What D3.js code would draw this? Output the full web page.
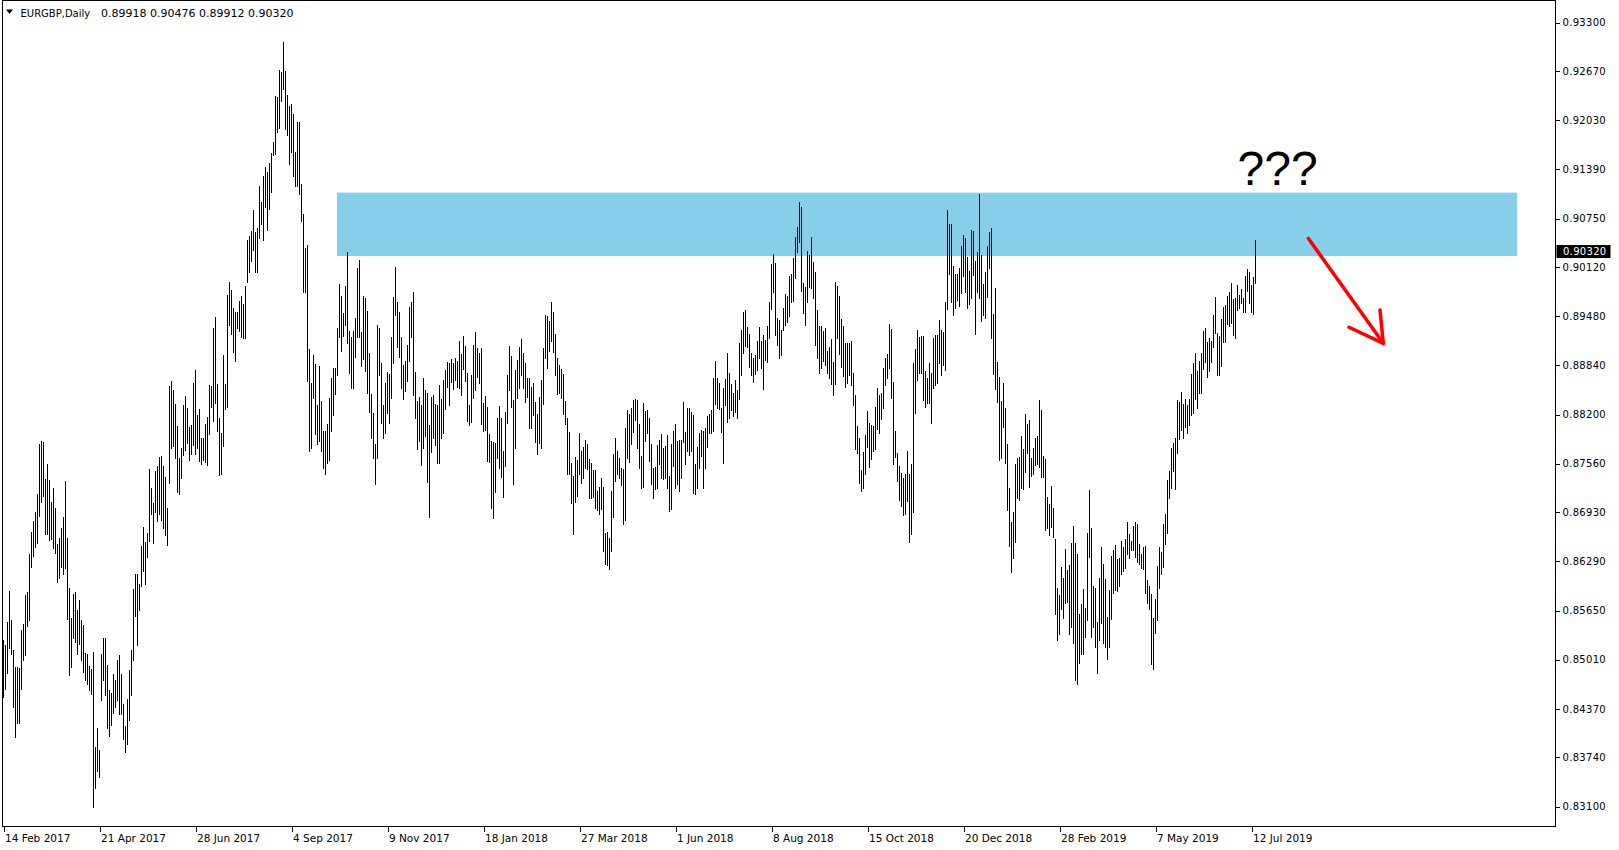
<!DOCTYPE html>
<html><head><meta charset="utf-8">
<script src="https://cdn.jsdelivr.net/npm/d3@7/dist/d3.min.js"></script>
<style>
html,body{margin:0;padding:0;background:#fff;}
svg{display:block;}
</style></head>
<body>
<svg id="c" width="1619" height="850"></svg>
<script>
// ---- data ----
const symbol = "EURGBP,Daily";
const lastOHLC = [0.89918, 0.90476, 0.89912, 0.90320];
const dateLabels = ["14 Feb 2017","21 Apr 2017","28 Jun 2017","4 Sep 2017","9 Nov 2017","18 Jan 2018","27 Mar 2018","1 Jun 2018","8 Aug 2018","15 Oct 2018","20 Dec 2018","28 Feb 2019","7 May 2019","12 Jul 2019"];
const barsPerLabel = 48;
const priceTicks = [0.93300,0.92670,0.92030,0.91390,0.90750,0.90120,0.89480,0.88840,0.88200,0.87560,0.86930,0.86290,0.85650,0.85010,0.84370,0.83740,0.83100];
const zone = [0.91086, 0.90262];       // resistance zone (price top, bottom)
const zoneBars = [167, 757];          // zone start / end bar index
const question = {text:"???", bar:617, price:0.91186};
const arrowLine = [[652.4,0.90492],[689.9,0.89126]];
const arrowWings = [[672.75,0.89335],[688.25,0.89560]];

const high = [
0.8527,0.8520,0.8550,0.8590,0.8553,0.8514,0.8491,0.8492,0.8490,0.8539,
0.8547,0.8585,0.8589,0.8638,0.8667,0.8681,0.8693,0.8717,0.8782,0.8785,
0.8784,0.8736,0.8756,0.8735,0.8706,0.8724,0.8698,0.8652,0.8659,0.8672,
0.8686,0.8733,0.8659,0.8594,0.8555,0.8586,0.8589,0.8566,0.8579,0.8553,
0.8546,0.8510,0.8508,0.8493,0.8489,0.8511,0.8388,0.8412,0.8384,0.8508,
0.8529,0.8529,0.8494,0.8462,0.8458,0.8482,0.8474,0.8500,0.8507,0.8483,
0.8444,0.8415,0.8450,0.8487,0.8513,0.8593,0.8613,0.8612,0.8600,0.8649,
0.8673,0.8654,0.8666,0.8749,0.8725,0.8705,0.8746,0.8753,0.8765,0.8766,
0.8753,0.8739,0.8698,0.8857,0.8864,0.8852,0.8834,0.8805,0.8763,0.8776,
0.8833,0.8844,0.8828,0.8804,0.8806,0.8861,0.8878,0.8820,0.8827,0.8789,
0.8790,0.8808,0.8817,0.8859,0.8857,0.8932,0.8947,0.8860,0.8816,0.8796,
0.8898,0.8860,0.8976,0.8992,0.8982,0.8958,0.8953,0.8953,0.8968,0.8974,
0.8964,0.8987,0.9047,0.9052,0.9059,0.9086,0.9058,0.9062,0.9117,0.9096,
0.9130,0.9142,0.9135,0.9147,0.9160,0.9175,0.9234,0.9233,0.9268,0.9266,
0.9305,0.9267,0.9236,0.9221,0.9224,0.9211,0.9162,0.9201,0.9201,0.9120,
0.9081,0.9037,0.9040,0.8905,0.8861,0.8897,0.8886,0.8833,0.8883,0.8837,
0.8799,0.8799,0.8808,0.8841,0.8867,0.8880,0.8880,0.8932,0.8990,0.8974,
0.8952,0.8987,0.9031,0.8929,0.8921,0.8929,0.8946,0.9011,0.9021,0.8927,
0.8974,0.8972,0.8955,0.8900,0.8847,0.8822,0.8782,0.8937,0.8933,0.8887,
0.8833,0.8861,0.8875,0.8873,0.8921,0.8973,0.9012,0.8966,0.8953,0.8921,
0.8884,0.8890,0.8911,0.8960,0.8966,0.8979,0.8875,0.8837,0.8843,0.8832,
0.8867,0.8852,0.8848,0.8806,0.8843,0.8845,0.8834,0.8832,0.8859,0.8840,
0.8865,0.8878,0.8888,0.8887,0.8892,0.8887,0.8893,0.8889,0.8916,0.8899,
0.8922,0.8909,0.8874,0.8833,0.8871,0.8910,0.8927,0.8907,0.8900,0.8907,
0.8835,0.8844,0.8830,0.8794,0.8786,0.8784,0.8783,0.8815,0.8831,0.8815,
0.8773,0.8823,0.8872,0.8909,0.8896,0.8839,0.8878,0.8891,0.8908,0.8918,
0.8900,0.8887,0.8868,0.8868,0.8856,0.8861,0.8836,0.8821,0.8843,0.8865,
0.8907,0.8949,0.8948,0.8941,0.8966,0.8954,0.8925,0.8894,0.8884,0.8879,
0.8873,0.8838,0.8815,0.8797,0.8757,0.8740,0.8765,0.8761,0.8796,0.8772,
0.8778,0.8787,0.8782,0.8762,0.8757,0.8748,0.8748,0.8721,0.8726,0.8738,
0.8726,0.8666,0.8667,0.8659,0.8721,0.8769,0.8789,0.8772,0.8764,0.8750,
0.8749,0.8802,0.8826,0.8821,0.8829,0.8839,0.8840,0.8839,0.8808,0.8766,
0.8835,0.8825,0.8826,0.8815,0.8782,0.8750,0.8752,0.8780,0.8787,0.8795,
0.8776,0.8779,0.8793,0.8740,0.8782,0.8799,0.8808,0.8786,0.8787,0.8787,
0.8836,0.8797,0.8829,0.8829,0.8823,0.8819,0.8755,0.8778,0.8796,0.8800,
0.8799,0.8803,0.8818,0.8821,0.8826,0.8868,0.8889,0.8868,0.8861,0.8828,
0.8855,0.8866,0.8900,0.8874,0.8860,0.8848,0.8865,0.8852,0.8913,0.8930,
0.8953,0.8956,0.8934,0.8925,0.8900,0.8894,0.8898,0.8916,0.8934,0.8915,
0.8924,0.8917,0.8935,0.8966,0.9016,0.9029,0.9017,0.8945,0.8943,0.8930,
0.8959,0.8977,0.8974,0.9000,0.9003,0.9024,0.9051,0.9064,0.9097,0.9090,
0.8991,0.8986,0.9033,0.9027,0.9051,0.9018,0.9005,0.8956,0.8935,0.8935,
0.8929,0.8932,0.8902,0.8908,0.8918,0.8888,0.8993,0.8987,0.8974,0.8944,
0.8935,0.8913,0.8913,0.8913,0.8915,0.8874,0.8845,0.8805,0.8789,0.8748,
0.8771,0.8793,0.8825,0.8809,0.8806,0.8805,0.8830,0.8855,0.8845,0.8848,
0.8881,0.8894,0.8899,0.8938,0.8931,0.8862,0.8799,0.8770,0.8753,0.8744,
0.8737,0.8742,0.8772,0.8743,0.8756,0.8887,0.8905,0.8930,0.8921,0.8922,
0.8922,0.8876,0.8868,0.8887,0.8874,0.8919,0.8924,0.8924,0.8943,0.8930,
0.8927,0.8966,0.9086,0.9068,0.9068,0.9013,0.9003,0.9003,0.9010,0.9039,
0.9054,0.9049,0.9025,0.9007,0.9060,0.9059,0.9020,0.9031,0.9107,0.9028,
0.8990,0.9005,0.9039,0.9057,0.9062,0.8951,0.8984,0.8888,0.8869,0.8838,
0.8861,0.8828,0.8781,0.8724,0.8680,0.8693,0.8756,0.8763,0.8765,0.8792,
0.8775,0.8821,0.8808,0.8813,0.8763,0.8776,0.8789,0.8792,0.8839,0.8826,
0.8766,0.8762,0.8713,0.8703,0.8727,0.8698,0.8658,0.8594,0.8585,0.8622,
0.8607,0.8645,0.8618,0.8624,0.8653,0.8675,0.8653,0.8639,0.8561,0.8573,
0.8593,0.8568,0.8666,0.8722,0.8672,0.8597,0.8594,0.8550,0.8607,0.8648,
0.8626,0.8606,0.8557,0.8592,0.8636,0.8644,0.8650,0.8632,0.8633,0.8655,
0.8648,0.8658,0.8680,0.8665,0.8655,0.8675,0.8680,0.8678,0.8652,0.8639,
0.8648,0.8649,0.8605,0.8597,0.8587,0.8555,0.8580,0.8623,0.8647,0.8641,
0.8678,0.8691,0.8735,0.8746,0.8777,0.8783,0.8789,0.8839,0.8836,0.8849,
0.8834,0.8840,0.8833,0.8840,0.8873,0.8887,0.8900,0.8876,0.8890,0.8900,
0.8929,0.8932,0.8914,0.8919,0.8916,0.8949,0.8973,0.8926,0.8922,0.8944,
0.8960,0.8962,0.8974,0.8980,0.8991,0.8970,0.8972,0.8988,0.8975,0.8983,
0.8971,0.9000,0.9009,0.9005,0.8988,0.8999,0.90476];

const low = [
0.8453,0.8463,0.8484,0.8516,0.8509,0.8439,0.8401,0.8419,0.8419,0.8463,
0.8500,0.8507,0.8545,0.8553,0.8622,0.8636,0.8648,0.8653,0.8688,0.8706,
0.8714,0.8664,0.8665,0.8657,0.8658,0.8646,0.8640,0.8602,0.8607,0.8622,
0.8612,0.8620,0.8554,0.8481,0.8492,0.8529,0.8524,0.8508,0.8521,0.8500,
0.8485,0.8475,0.8470,0.8461,0.8457,0.8310,0.8334,0.8356,0.8349,0.8448,
0.8474,0.8455,0.8412,0.8402,0.8416,0.8432,0.8439,0.8448,0.8430,0.8430,
0.8398,0.8381,0.8391,0.8423,0.8455,0.8500,0.8558,0.8520,0.8566,0.8597,
0.8616,0.8599,0.8635,0.8655,0.8690,0.8653,0.8693,0.8682,0.8691,0.8683,
0.8672,0.8663,0.8650,0.8731,0.8777,0.8779,0.8763,0.8719,0.8717,0.8737,
0.8767,0.8774,0.8783,0.8761,0.8768,0.8780,0.8769,0.8776,0.8759,0.8755,
0.8761,0.8758,0.8754,0.8794,0.8830,0.8812,0.8835,0.8799,0.8741,0.8742,
0.8779,0.8827,0.8830,0.8937,0.8925,0.8901,0.8889,0.8932,0.8929,0.8921,
0.8920,0.8920,0.8993,0.9005,0.9020,0.9034,0.9005,0.9005,0.9049,0.9068,
0.9047,0.9090,0.9060,0.9088,0.9109,0.9158,0.9159,0.9187,0.9193,0.9228,
0.9244,0.9191,0.9183,0.9146,0.9161,0.9130,0.9117,0.9117,0.9107,0.9072,
0.8979,0.8980,0.8864,0.8772,0.8776,0.8841,0.8794,0.8781,0.8785,0.8773,
0.8750,0.8743,0.8757,0.8761,0.8799,0.8820,0.8847,0.8872,0.8921,0.8903,
0.8922,0.8937,0.8913,0.8874,0.8854,0.8855,0.8895,0.8921,0.8921,0.8883,
0.8892,0.8877,0.8848,0.8823,0.8790,0.8763,0.8730,0.8764,0.8871,0.8809,
0.8789,0.8796,0.8822,0.8809,0.8842,0.8887,0.8949,0.8908,0.8895,0.8854,
0.8840,0.8851,0.8864,0.8890,0.8921,0.8845,0.8815,0.8775,0.8786,0.8754,
0.8777,0.8792,0.8732,0.8687,0.8771,0.8789,0.8780,0.8757,0.8757,0.8790,
0.8796,0.8827,0.8856,0.8833,0.8862,0.8853,0.8865,0.8856,0.8855,0.8846,
0.8879,0.8864,0.8812,0.8806,0.8810,0.8842,0.8852,0.8869,0.8861,0.8807,
0.8799,0.8800,0.8759,0.8758,0.8698,0.8685,0.8719,0.8763,0.8750,0.8739,
0.8713,0.8753,0.8809,0.8852,0.8830,0.8729,0.8776,0.8841,0.8855,0.8872,
0.8855,0.8836,0.8843,0.8802,0.8802,0.8820,0.8784,0.8769,0.8783,0.8776,
0.8834,0.8894,0.8881,0.8902,0.8915,0.8901,0.8871,0.8847,0.8848,0.8842,
0.8821,0.8807,0.8743,0.8742,0.8705,0.8664,0.8706,0.8714,0.8743,0.8731,
0.8738,0.8750,0.8749,0.8711,0.8712,0.8713,0.8698,0.8696,0.8690,0.8697,
0.8642,0.8625,0.8624,0.8619,0.8642,0.8686,0.8733,0.8742,0.8737,0.8728,
0.8678,0.8683,0.8763,0.8758,0.8781,0.8797,0.8813,0.8776,0.8751,0.8725,
0.8726,0.8786,0.8796,0.8760,0.8730,0.8711,0.8723,0.8724,0.8756,0.8737,
0.8736,0.8738,0.8724,0.8695,0.8697,0.8753,0.8724,0.8730,0.8721,0.8737,
0.8784,0.8756,0.8773,0.8767,0.8773,0.8718,0.8717,0.8725,0.8750,0.8766,
0.8724,0.8750,0.8778,0.8796,0.8796,0.8798,0.8834,0.8829,0.8827,0.8797,
0.8757,0.8833,0.8810,0.8815,0.8826,0.8818,0.8823,0.8815,0.8840,0.8872,
0.8900,0.8909,0.8908,0.8882,0.8871,0.8862,0.8873,0.8878,0.8893,0.8881,
0.8853,0.8891,0.8888,0.8920,0.8957,0.8979,0.8924,0.8911,0.8894,0.8898,
0.8930,0.8936,0.8940,0.8948,0.8967,0.8968,0.8997,0.9032,0.9044,0.8981,
0.8952,0.8936,0.8966,0.8986,0.8985,0.8972,0.8911,0.8893,0.8874,0.8881,
0.8889,0.8885,0.8874,0.8868,0.8860,0.8846,0.8860,0.8919,0.8899,0.8882,
0.8870,0.8856,0.8861,0.8872,0.8858,0.8833,0.8775,0.8770,0.8731,0.8721,
0.8725,0.8743,0.8778,0.8752,0.8762,0.8773,0.8775,0.8801,0.8796,0.8814,
0.8828,0.8859,0.8868,0.8881,0.8841,0.8755,0.8765,0.8734,0.8709,0.8701,
0.8689,0.8690,0.8707,0.8654,0.8664,0.8693,0.8822,0.8865,0.8874,0.8874,
0.8839,0.8830,0.8835,0.8835,0.8809,0.8854,0.8859,0.8861,0.8887,0.8872,
0.8885,0.8878,0.8957,0.9003,0.8966,0.8950,0.8959,0.8969,0.8961,0.8978,
0.9000,0.8979,0.8958,0.8964,0.8971,0.9002,0.8925,0.8979,0.8972,0.8942,
0.8949,0.8946,0.8973,0.9010,0.8920,0.8873,0.8853,0.8836,0.8761,0.8764,
0.8804,0.8757,0.8696,0.8649,0.8615,0.8633,0.8654,0.8711,0.8709,0.8724,
0.8723,0.8745,0.8770,0.8726,0.8740,0.8742,0.8754,0.8756,0.8752,0.8739,
0.8739,0.8670,0.8672,0.8663,0.8674,0.8660,0.8560,0.8527,0.8535,0.8567,
0.8555,0.8575,0.8576,0.8534,0.8543,0.8523,0.8474,0.8469,0.8497,0.8508,
0.8509,0.8530,0.8552,0.8635,0.8531,0.8543,0.8517,0.8484,0.8526,0.8549,
0.8523,0.8517,0.8502,0.8517,0.8554,0.8588,0.8592,0.8590,0.8597,0.8612,
0.8616,0.8620,0.8639,0.8633,0.8644,0.8644,0.8634,0.8628,0.8625,0.8620,
0.8619,0.8588,0.8575,0.8567,0.8495,0.8489,0.8536,0.8552,0.8594,0.8612,
0.8622,0.8652,0.8666,0.8712,0.8724,0.8747,0.8723,0.8770,0.8788,0.8800,
0.8789,0.8804,0.8796,0.8806,0.8820,0.8822,0.8840,0.8828,0.8848,0.8848,
0.8879,0.8888,0.8869,0.8876,0.8888,0.8908,0.8926,0.8872,0.8871,0.8883,
0.8914,0.8914,0.8938,0.8935,0.8939,0.8923,0.8919,0.8956,0.8958,0.8965,
0.8953,0.8954,0.8981,0.8965,0.8953,0.8951,0.89912];

// ---- drawing ----
const svg = d3.select("#c");
const L = 2.5, R = 1555.5, T = 0.5, B = 826.5;
const x = d3.scaleLinear().domain([0, 776]).range([3.5, 1555.5]);
const y = d3.scaleLinear().domain([0.831, 0.933]).range([806.5, 22.5]);
const font = "'DejaVu Sans', Verdana, sans-serif";

svg.append("rect").attr("width",1619).attr("height",850).attr("fill","#fff");

// zone
svg.append("rect")
  .attr("x", x(zoneBars[0]) - 0.5).attr("width", x(zoneBars[1]) - x(zoneBars[0]))
  .attr("y", y(zone[0])).attr("height", y(zone[1]) - y(zone[0]))
  .attr("fill", "#87CEEB");

// bars
const bars = high.map((h, i) => ({i, h, l: low[i]}));
svg.append("g").attr("shape-rendering","crispEdges")
  .selectAll("rect").data(bars).join("rect")
  .attr("x", d => x(d.i) - 0.5).attr("width", 1)
  .attr("y", d => Math.round(y(d.h)))
  .attr("height", d => Math.max(1, Math.round(y(d.l)) - Math.round(y(d.h)) + 1))
  .attr("fill", "#000");

// frame
svg.append("rect").attr("x",L).attr("y",T).attr("width",R-L).attr("height",B-T)
  .attr("fill","none").attr("stroke","#000").attr("stroke-width",1).attr("shape-rendering","crispEdges");

// right price axis
const ya = svg.append("g").attr("transform",`translate(${R},0)`)
  .call(d3.axisRight(y).tickValues(priceTicks).tickFormat(d3.format(".5f")).tickSize(4).tickPadding(3));
ya.select(".domain").remove();
ya.selectAll("line").attr("stroke","#000").attr("shape-rendering","crispEdges");
ya.selectAll("text").attr("font-family",font).attr("font-size","10px").attr("fill","#000").attr("letter-spacing","0.3px");

// current price label
svg.append("rect").attr("x",R+1).attr("width",54).attr("y",y(lastOHLC[3])-6.5).attr("height",13).attr("fill","#000");
svg.append("text").attr("x",R+7.5).attr("y",y(lastOHLC[3])).attr("dy","0.34em")
  .attr("font-family",font).attr("font-size","10px").attr("fill","#fff").attr("letter-spacing","0.3px")
  .text(d3.format(".5f")(lastOHLC[3]));

// bottom time axis
const dateIdx = dateLabels.map((d,i) => i*barsPerLabel);
const xa = svg.append("g").attr("transform",`translate(0,${B})`)
  .call(d3.axisBottom(x).tickValues(dateIdx).tickFormat((d,i)=>dateLabels[i]).tickSize(5).tickPadding(3));
xa.select(".domain").remove();
xa.selectAll("line").attr("stroke","#000").attr("shape-rendering","crispEdges");
xa.selectAll("text").attr("font-family",font).attr("font-size","10.5px").attr("fill","#000")
  .attr("text-anchor","start").attr("dx","1px");

// header
svg.append("path").attr("d","M6,9.5 L13,9.5 L9.5,14 Z").attr("fill","#000");
svg.append("text").attr("x",20.5).attr("y",16.5).attr("font-family",font).attr("font-size","10px").attr("fill","#000").text(symbol);
svg.append("text").attr("x",101).attr("y",16.5).attr("font-family",font).attr("font-size","11px").attr("fill","#000")
  .text(lastOHLC.map(d3.format(".5f")).join(" "));

// annotations
svg.append("text").attr("x",x(question.bar)).attr("y",y(question.price))
  .attr("font-family","'Liberation Sans', Arial, sans-serif").attr("font-size","48px").attr("fill","#000")
  .text(question.text);
const ar = svg.append("g").attr("stroke","#ff0000").attr("stroke-width",3.5).attr("stroke-linecap","round").attr("fill","none");
const line = d3.line().x(d=>x(d[0])).y(d=>y(d[1]));
ar.append("path").attr("d", line(arrowLine));
arrowWings.forEach(w => ar.append("path").attr("d", line([w, arrowLine[1]])));
</script>
</body></html>
